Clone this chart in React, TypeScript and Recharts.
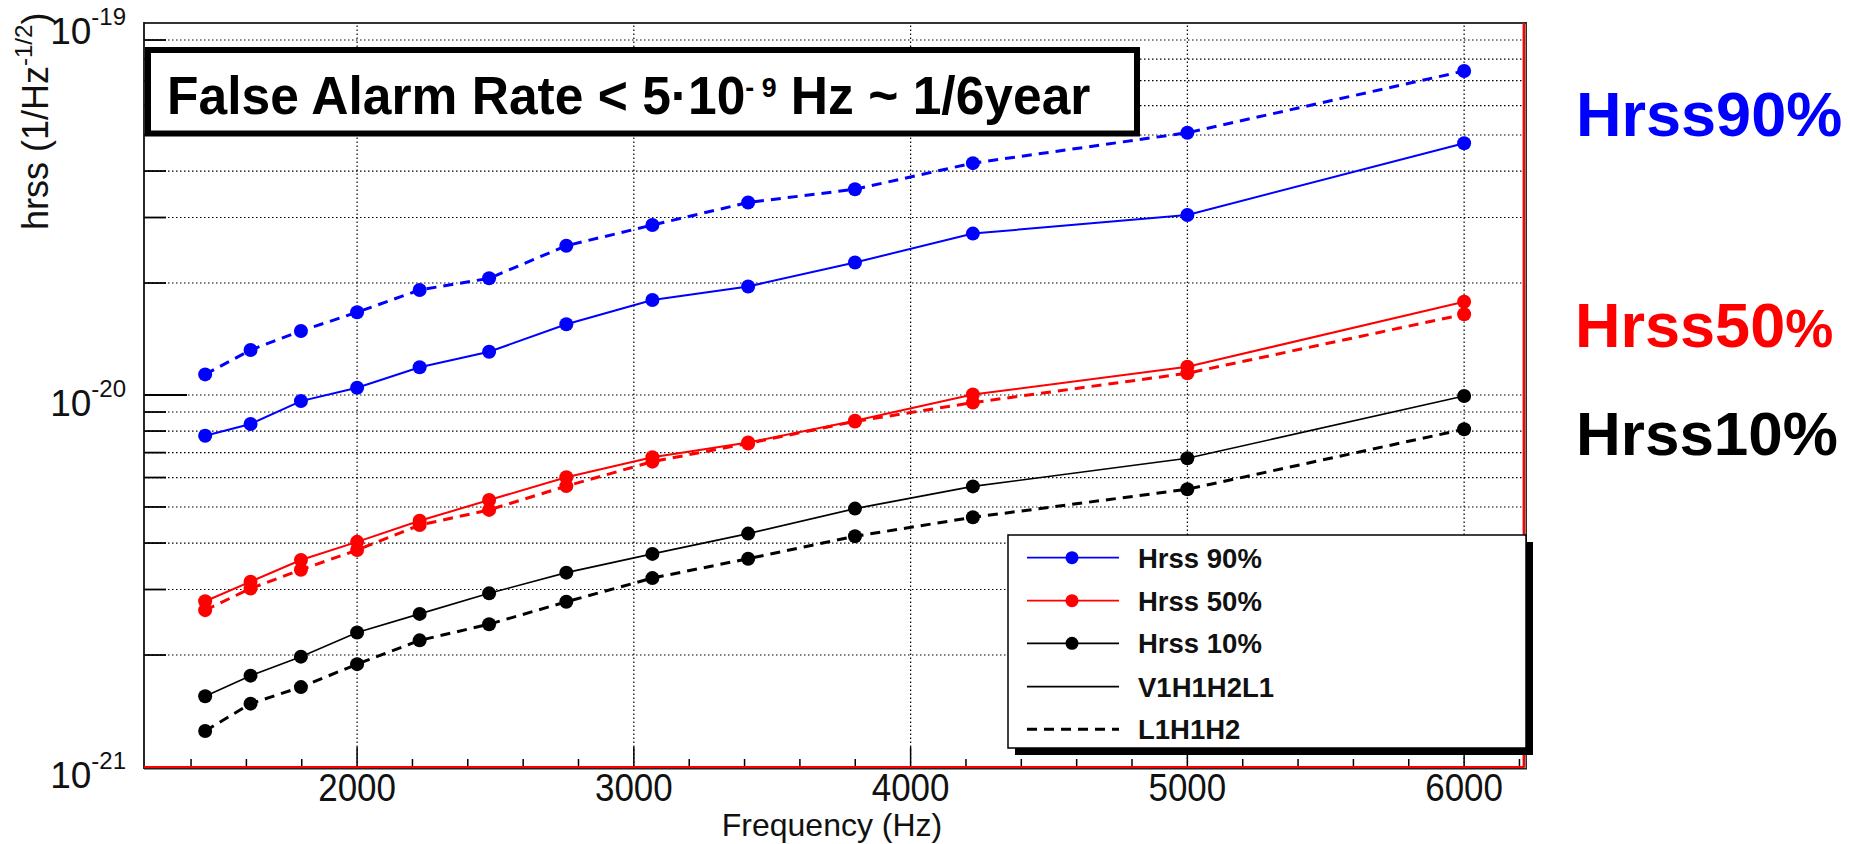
import React from 'react';
import { LineChart, Line, XAxis, YAxis, CartesianGrid, ReferenceLine } from 'recharts';

// sine-gaussian central frequencies (Hz)
const freqs = [1451, 1615, 1797, 2000, 2226, 2477, 2756, 3067, 3413, 3799, 4225, 5000, 6000];

// hrss (1/Hz^-1/2) at 90/50/10 % detection efficiency, per network
const hrss90V1H1H2L1 = [7.77e-21, 8.36e-21, 9.63e-21, 1.046e-20, 1.187e-20, 1.307e-20, 1.549e-20, 1.8e-20, 1.958e-20, 2.271e-20, 2.716e-20, 3.047e-20, 4.75e-20];
const hrss90L1H1H2 = [1.136e-20, 1.321e-20, 1.486e-20, 1.669e-20, 1.916e-20, 2.059e-20, 2.519e-20, 2.864e-20, 3.292e-20, 3.573e-20, 4.2e-20, 5.07e-20, 7.43e-20];
const hrss50V1H1H2L1 = [2.79e-21, 3.15e-21, 3.6e-21, 4.03e-21, 4.59e-21, 5.22e-21, 6.01e-21, 6.8e-21, 7.45e-21, 8.53e-21, 1.003e-20, 1.191e-20, 1.781e-20];
const hrss50L1H1H2 = [2.64e-21, 3.02e-21, 3.39e-21, 3.83e-21, 4.47e-21, 4.91e-21, 5.69e-21, 6.62e-21, 7.41e-21, 8.49e-21, 9.54e-21, 1.144e-20, 1.648e-20];
const hrss10V1H1H2L1 = [1.55e-21, 1.76e-21, 1.98e-21, 2.3e-21, 2.58e-21, 2.93e-21, 3.33e-21, 3.74e-21, 4.24e-21, 4.95e-21, 5.68e-21, 6.76e-21, 9.94e-21];
const hrss10L1H1H2 = [1.25e-21, 1.48e-21, 1.64e-21, 1.89e-21, 2.19e-21, 2.42e-21, 2.78e-21, 3.22e-21, 3.63e-21, 4.17e-21, 4.69e-21, 5.58e-21, 8.09e-21];

const xTicks = [1400, 1600, 1800, 2000, 2200, 2400, 2600, 2800, 3000, 3200, 3400, 3600, 3800, 4000, 4200, 4400, 4600, 4800, 5000, 5200, 5400, 5600, 5800, 6000, 6200];
const xGrid = [2000, 3000, 4000, 5000, 6000];
const yTicks = [
  1e-21, 2e-21, 3e-21, 4e-21, 5e-21, 6e-21, 7e-21, 8e-21, 9e-21,
  1e-20, 2e-20, 3e-20, 4e-20, 5e-20, 6e-20, 7e-20, 8e-20, 9e-20, 1e-19,
];

const data = freqs.map((f, i) => ({
  freq: f,
  b4: hrss90V1H1H2L1[i],
  b3: hrss90L1H1H2[i],
  r4: hrss50V1H1H2L1[i],
  r3: hrss50L1H1H2[i],
  k4: hrss10V1H1H2L1[i],
  k3: hrss10L1H1H2[i],
}));

const FONT = '"Liberation Sans", Arial, Helvetica, sans-serif';
const BLUE = '#0000ff';
const RED = '#ff0000';
const BLACK = '#000000';

const series = [
  { key: 'b3', color: BLUE, dashed: true },
  { key: 'b4', color: BLUE, dashed: false },
  { key: 'r3', color: RED, dashed: true },
  { key: 'r4', color: RED, dashed: false },
  { key: 'k3', color: BLACK, dashed: true },
  { key: 'k4', color: BLACK, dashed: false },
];

const legendItems = [
  { label: 'Hrss 90%', color: BLUE, marker: true, dashed: false },
  { label: 'Hrss 50%', color: RED, marker: true, dashed: false },
  { label: 'Hrss 10%', color: BLACK, marker: true, dashed: false },
  { label: 'V1H1H2L1', color: BLACK, marker: false, dashed: false },
  { label: 'L1H1H2', color: BLACK, marker: false, dashed: true },
];

function XTick(props: any) {
  const { x, y, payload } = props;
  const v = payload.value;
  const major = v % 1000 === 0;
  return (
    <g>
      <line x1={x} x2={x} y1={y} y2={y - (major ? 20 : 8)} stroke="#000" strokeWidth={1.5} />
      {major && (
        <g transform={`translate(${x},${y + 34}) scale(0.92,1)`}>
          <text x={0} y={0} textAnchor="middle" fontSize={38} fill="#111" fontFamily={FONT}>
            {v}
          </text>
        </g>
      )}
    </g>
  );
}

function YTick(props: any) {
  const { x, y, payload } = props;
  const lg = Math.log10(payload.value);
  const exp = Math.round(lg);
  const major = Math.abs(lg - exp) < 1e-6;
  return (
    <g>
      <line x1={x} x2={x + (major ? 43 : 22)} y1={y} y2={y} stroke="#000" strokeWidth={1.8} />
      {major && (
        <text x={x - 18} y={y + 21} textAnchor="end" fill="#111" fontFamily={FONT}>
          <tspan fontSize={37}>10</tspan>
          <tspan fontSize={24} dy={-19}>{exp}</tspan>
        </text>
      )}
    </g>
  );
}

function Overlay() {
  const lx = 1008;
  const ly = 535;
  const lw = 518;
  const lh = 213;
  const rows = [557.7, 600.7, 643.3, 686.7, 729.3];
  return (
    <svg
      width={1850}
      height={844}
      style={{ position: 'absolute', left: 0, top: 0, pointerEvents: 'none' }}
      fontFamily={FONT}
    >
      {/* frame */}
      <line x1={144} x2={1526} y1={23} y2={23} stroke="#333" strokeWidth={2} />
      <line x1={144} x2={144} y1={22} y2={769} stroke="#111" strokeWidth={1.8} />
      <line x1={1526.2} x2={1526.2} y1={22} y2={769} stroke="#222" strokeWidth={1.5} />
      <line x1={1523.8} x2={1523.8} y1={23} y2={767} stroke={RED} strokeWidth={2.4} />
      <line x1={144} x2={1527} y1={768.8} y2={768.8} stroke="#222" strokeWidth={1.5} />
      <line x1={144} x2={1524} y1={767} y2={767} stroke={RED} strokeWidth={2.2} />

      {/* y-axis title */}
      <text transform="translate(48,230) rotate(-90)" fill="#111">
        <tspan fontSize={36}>hrss (1/Hz</tspan>
        <tspan fontSize={24} dy={-16}>-1/2</tspan>
        <tspan fontSize={36} dy={16}>)</tspan>
      </text>

      {/* x-axis title */}
      <text x={832} y={836} textAnchor="middle" fontSize={32} fill="#111">
        Frequency (Hz)
      </text>

      {/* false alarm rate box */}
      <rect x={148} y={50} width={989} height={83.5} fill="#fff" stroke="#000" strokeWidth={6} />
      <g transform="translate(167,114) scale(0.955,1)">
        <text x={0} y={0} fontWeight="bold" fill="#000">
          <tspan fontSize={54}>False Alarm Rate &lt; 5·10</tspan>
          <tspan fontSize={28} dy={-17}>- 9</tspan>
          <tspan fontSize={54} dy={17}> Hz ~ 1/6year</tspan>
        </text>
      </g>

      {/* legend */}
      <rect x={lx + 7} y={ly + 7} width={lw} height={lh} fill="#000" />
      <rect x={lx} y={ly} width={lw} height={lh} fill="#fff" stroke="#000" strokeWidth={1.5} />
      {legendItems.map((it, i) => (
        <g key={it.label}>
          <line
            x1={1027}
            x2={1119}
            y1={rows[i]}
            y2={rows[i]}
            stroke={it.color}
            strokeWidth={it.dashed ? 3 : 1.8}
            strokeDasharray={it.dashed ? '10 7' : undefined}
          />
          {it.marker && <circle cx={1072} cy={rows[i]} r={6.5} fill={it.color} />}
          <text x={1138} y={rows[i] + 10} fontSize={27.5} fontWeight="bold" fill="#111">
            {it.label}
          </text>
        </g>
      ))}

      {/* right-hand annotations */}
      <text x={1576} y={136} fontSize={63} fontWeight="bold" fill={BLUE}>
        Hrss90%
      </text>
      <text x={1575} y={347} fontWeight="bold" fill={RED}>
        <tspan fontSize={63}>Hrss50</tspan>
        <tspan fontSize={54}>%</tspan>
      </text>
      <text x={1576} y={455} fontSize={62} fontWeight="bold" fill={BLACK}>
        Hrss10%
      </text>
    </svg>
  );
}

export default function App() {
  return (
    <div style={{ position: 'absolute', left: 0, top: 0, width: 1850, height: 844, background: '#fff' }}>
      <LineChart width={1850} height={844} data={data} margin={{ top: 23, right: 325, bottom: 27, left: 64 }}>
        <CartesianGrid horizontal vertical={false} stroke="#000" strokeWidth={1.2} strokeDasharray="1.5 2.5" />
        {xGrid.map((v) => (
          <ReferenceLine key={v} x={v} stroke="#000" strokeWidth={1.2} strokeDasharray="1.5 2.5" />
        ))}
        <XAxis
          dataKey="freq"
          type="number"
          domain={[1230, 6220]}
          ticks={xTicks}
          interval={0}
          allowDataOverflow
          axisLine={false}
          tickLine={false}
          tickSize={0}
          tickMargin={0}
          height={50}
          tick={<XTick />}
        />
        <YAxis
          type="number"
          scale="log"
          domain={[1e-21, 1e-19]}
          ticks={yTicks}
          interval={0}
          allowDataOverflow
          axisLine={false}
          tickLine={false}
          tickSize={0}
          tickMargin={0}
          width={80}
          tick={<YTick />}
        />
        {series.map((s) => (
          <Line
            key={s.key}
            dataKey={s.key}
            type="linear"
            stroke={s.color}
            strokeWidth={s.dashed ? 3 : s.color === BLACK ? 1.6 : 2}
            strokeDasharray={s.dashed ? '10 7' : undefined}
            dot={{ r: 7, fill: s.color, stroke: 'none' }}
            activeDot={false}
            isAnimationActive={false}
          />
        ))}
      </LineChart>
      <Overlay />
    </div>
  );
}
